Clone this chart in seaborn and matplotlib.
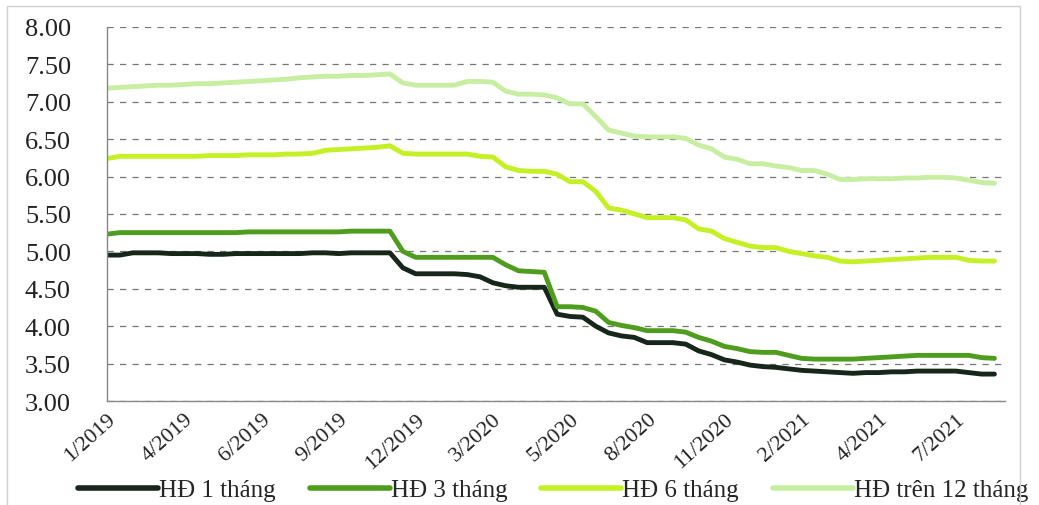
import matplotlib
matplotlib.use("Agg")
import matplotlib.pyplot as plt
import seaborn as sns
import pandas as pd
import numpy as np
from matplotlib.patches import Rectangle

# ---- data ----
tick_labels = ["1/2019", "4/2019", "6/2019", "9/2019", "12/2019", "3/2020",
               "5/2020", "8/2020", "11/2020", "2/2021", "4/2021", "7/2021"]
points_per_label = 6

hd_1 = [4.95, 4.95, 4.98, 4.98, 4.98, 4.97, 4.97, 4.97, 4.96, 4.96,
        4.97, 4.97, 4.97, 4.97, 4.97, 4.97, 4.98, 4.98, 4.97, 4.98,
        4.98, 4.98, 4.98, 4.78, 4.70, 4.70, 4.70, 4.70, 4.69, 4.66,
        4.58, 4.54, 4.52, 4.52, 4.52, 4.16, 4.13, 4.12, 4.00, 3.91,
        3.87, 3.85, 3.78, 3.78, 3.78, 3.76, 3.67, 3.62, 3.55, 3.52,
        3.48, 3.46, 3.45, 3.43, 3.41, 3.40, 3.39, 3.38, 3.37, 3.38,
        3.38, 3.39, 3.39, 3.40, 3.40, 3.40, 3.40, 3.38, 3.36, 3.36]
hd_3 = [5.23, 5.25, 5.25, 5.25, 5.25, 5.25, 5.25, 5.25, 5.25, 5.25,
        5.25, 5.26, 5.26, 5.26, 5.26, 5.26, 5.26, 5.26, 5.26, 5.27,
        5.27, 5.27, 5.27, 5.00, 4.92, 4.92, 4.92, 4.92, 4.92, 4.92,
        4.92, 4.82, 4.74, 4.73, 4.72, 4.26, 4.26, 4.25, 4.20, 4.05,
        4.01, 3.98, 3.94, 3.94, 3.94, 3.92, 3.85, 3.80, 3.73, 3.70,
        3.66, 3.65, 3.65, 3.61, 3.57, 3.56, 3.56, 3.56, 3.56, 3.57,
        3.58, 3.59, 3.60, 3.61, 3.61, 3.61, 3.61, 3.61, 3.58, 3.57]
hd_6 = [6.24, 6.27, 6.27, 6.27, 6.27, 6.27, 6.27, 6.27, 6.28, 6.28,
        6.28, 6.29, 6.29, 6.29, 6.30, 6.30, 6.31, 6.35, 6.36, 6.37,
        6.38, 6.39, 6.41, 6.31, 6.30, 6.30, 6.30, 6.30, 6.30, 6.27,
        6.26, 6.13, 6.08, 6.07, 6.07, 6.03, 5.93, 5.93, 5.80, 5.58,
        5.55, 5.50, 5.45, 5.45, 5.45, 5.42, 5.30, 5.27, 5.17, 5.12,
        5.07, 5.05, 5.05, 5.00, 4.97, 4.94, 4.92, 4.87, 4.86, 4.87,
        4.88, 4.89, 4.90, 4.91, 4.92, 4.92, 4.92, 4.88, 4.87, 4.87]
hd_12 = [7.18, 7.19, 7.20, 7.21, 7.22, 7.22, 7.23, 7.24, 7.24, 7.25,
         7.26, 7.27, 7.28, 7.29, 7.30, 7.32, 7.33, 7.34, 7.34, 7.35,
         7.35, 7.36, 7.37, 7.25, 7.22, 7.22, 7.22, 7.22, 7.27, 7.27,
         7.26, 7.14, 7.10, 7.10, 7.09, 7.05, 6.97, 6.97, 6.80, 6.62,
         6.58, 6.54, 6.53, 6.53, 6.53, 6.51, 6.42, 6.37, 6.26, 6.23,
         6.17, 6.17, 6.14, 6.12, 6.08, 6.08, 6.03, 5.96, 5.96, 5.97,
         5.97, 5.97, 5.98, 5.98, 5.99, 5.99, 5.98, 5.95, 5.92, 5.91]

series_names = ["HĐ 1 tháng", "HĐ 3 tháng", "HĐ 6 tháng", "HĐ trên 12 tháng"]
series_values = [hd_1, hd_3, hd_6, hd_12]
colors = ["#17261a", "#4f9d1f", "#c4f024", "#c8eea2"]

frames = []
for name, vals in zip(series_names, series_values):
    frames.append(pd.DataFrame({"idx": np.arange(len(vals)), "value": vals, "series": name}))
df = pd.concat(frames, ignore_index=True)

# ---- style ----
sns.set_style("white")
plt.rcParams["font.family"] = ["Liberation Serif", "DejaVu Serif"]

fig = plt.figure(figsize=(10.39, 5.06), dpi=100)
ax = fig.add_axes([0.103, 0.2055, 0.864, 0.7395])

sns.lineplot(data=df, x="idx", y="value", hue="series", hue_order=series_names,
             palette=colors, linewidth=3.5, ax=ax, legend=True)

ax.set_xlim(0, 69.8)
ax.set_ylim(3.0, 8.0)
yt = np.arange(3.0, 8.01, 0.5)
ax.set_yticks(yt)
ax.set_yticklabels([f"{v:.2f}" for v in yt], fontsize=19)
ax.set_xticks(np.arange(0, len(tick_labels) * points_per_label, points_per_label))
ax.set_xticklabels(tick_labels, fontsize=16, rotation=42, ha="right",
                   rotation_mode="anchor")
ax.tick_params(axis="y", length=0, pad=26, colors="#222222")
ax.tick_params(axis="x", length=0, pad=6, colors="#222222")
ax.set_xlabel("")
ax.set_ylabel("")

ax.grid(axis="y", linestyle=(0, (5, 5)), color="#777777", linewidth=0.9)
ax.grid(axis="x", visible=False)
for s in ["top", "right"]:
    ax.spines[s].set_visible(False)
for s in ["left", "bottom"]:
    ax.spines[s].set_color("#888888")
    ax.spines[s].set_linewidth(1.0)

handles, labels = ax.get_legend_handles_labels()
for h in handles:
    h.set_linewidth(4)
ax.legend(handles, labels, loc="center", bbox_to_anchor=(0.497, -0.238),
          bbox_transform=ax.transAxes, ncol=4, frameon=False, fontsize=18,
          handlelength=3.2, handletextpad=0.05, columnspacing=1.35,
          borderaxespad=0, borderpad=0)

fig.patches.append(Rectangle((0.007, -0.01), 0.975, 0.996, transform=fig.transFigure,
                             fill=False, edgecolor="#d0d0d0", linewidth=1.0))

fig.savefig("out.png", dpi=100, facecolor="white")
